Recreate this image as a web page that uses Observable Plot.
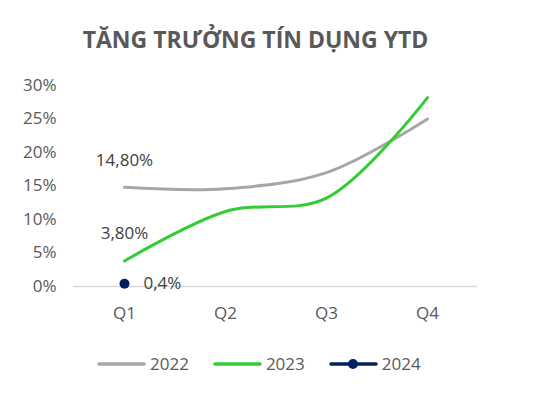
<!DOCTYPE html>
<html><head><meta charset="utf-8">
<script src="https://cdn.jsdelivr.net/npm/d3@7"></script>
<script src="https://cdn.jsdelivr.net/npm/@observablehq/plot@0.6"></script>
<style>
body{margin:0;background:#fff;width:533px;font-family:"Open Sans",sans-serif;}
#title{height:68px;box-sizing:border-box;padding-top:23px;text-align:center;font-weight:700;font-size:23px;line-height:32px;color:#595959;padding-right:22px;}
#legend{display:flex;margin-left:97px;margin-top:20px;font-size:17px;color:#595959;align-items:center;}
#legend .it{display:flex;align-items:center;margin-right:24px;}
#legend svg{margin-right:4px;}
</style></head><body>
<div id="title">TĂNG TRƯỞNG TÍN DỤNG YTD</div>
<div id="chart"></div>
<div id="legend"></div>
<script>
const quarters = ["Q1","Q2","Q3","Q4"];
const series = ["2022","2023","2024"];
const values2022 = [14.8, 14.6, 17.0, 25.0];
const values2023 = [3.8, 11.2, 13.2, 28.2];
const values2024 = [0.4];
const labels = [
  {series:"2022", q:"Q1", v:14.8, text:"14,80%"},
  {series:"2023", q:"Q1", v:3.8, text:"3,80%"},
  {series:"2024", q:"Q1", v:0.4, text:"0,4%"}
];
const yTicks = [0,5,10,15,20,25,30];
const colors = ["#a8a5a5","#33cc33","#002060"];

const rows = [];
values2022.forEach((v,i)=>rows.push({series:"2022", q:quarters[i], v}));
values2023.forEach((v,i)=>rows.push({series:"2023", q:quarters[i], v}));
const rows24 = values2024.map((v,i)=>({series:"2024", q:quarters[i], v}));

const chart = Plot.plot({
  width:533, height:264,
  marginLeft:73, marginRight:56, marginTop:17, marginBottom:46,
  style:{fontFamily:"Open Sans, sans-serif", fontSize:"17px", color:"#595959"},
  x:{type:"point", domain:quarters, label:null, tickSize:0, tickPadding:20},
  y:{domain:[0,30], ticks:yTicks, tickFormat:d=>d+"%", label:null, tickSize:0, tickPadding:17},
  color:{domain:series, range:colors},
  marks:[
    Plot.ruleY([0],{stroke:"#d9d9d9", strokeWidth:1.3}),
    Plot.line(rows,{x:"q", y:"v", z:"series", stroke:"series", strokeWidth:3, curve:"catmull-rom"}),
    Plot.dot(rows24,{x:"q", y:"v", fill:"series", r:5}),
    Plot.text(labels.filter(d=>d.series!=="2024"),{x:"q", y:"v", text:"text", dy:-27, fill:"#404040", fontSize:17}),
    Plot.text(labels.filter(d=>d.series==="2024"),{x:"q", y:"v", text:"text", dx:19, textAnchor:"start", fill:"#404040", fontSize:17})
  ]
});
document.getElementById("chart").appendChild(chart);

const leg = document.getElementById("legend");
series.forEach((s,i)=>{
  const it = document.createElement("div"); it.className="it";
  const dot = s==="2024" ? `<circle cx="24" cy="6" r="5" fill="${colors[i]}"/>` : "";
  it.innerHTML = `<svg width="49" height="12"><line x1="2" y1="6" x2="47" y2="6" stroke="${colors[i]}" stroke-width="3.5" stroke-linecap="round"/>${dot}</svg><span>${s}</span>`;
  leg.appendChild(it);
});
</script>
</body></html>
